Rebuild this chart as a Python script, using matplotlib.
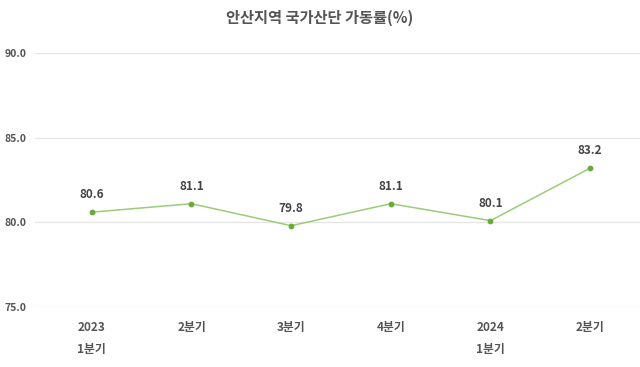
import numpy as np
import matplotlib
matplotlib.use("Agg")
from matplotlib import pyplot as plt

plt.rcParams['font.family'] = ['Noto Sans CJK KR', 'DejaVu Sans']

# data
quarters = ['2023\n1분기', '2분기', '3분기', '4분기', '2024\n1분기', '2분기']
rates = [80.6, 81.1, 79.8, 81.1, 80.1, 83.2]
y_ticks = [75.0, 80.0, 85.0, 90.0]

fig = plt.figure(figsize=(6.4, 3.67), dpi=100)
ax = fig.add_axes([35 / 640, 1 - 307 / 367, 1 - 35 / 640, (307 - 53) / 367])

x = np.arange(len(quarters))
ax.plot(x, rates, color='#9bcc7a', lw=1.1, zorder=3)
ax.scatter(x, rates, s=10, color='#6aaa3a', zorder=4)

for xi, v in zip(x, rates):
    ax.annotate(f'{v:.1f}', (xi, v), xytext=(0, 8), textcoords='offset points',
                ha='center', va='bottom', fontsize=8.5, fontweight='bold', color='#444444')

ax.set_ylim(75, 90)
ax.set_xlim(-0.57, 5.5)
ax.set_yticks(y_ticks)
ax.set_yticklabels([f'{t:.1f}' for t in y_ticks], fontsize=7.5, fontweight='bold', color='#555555')
ax.set_xticks(x)
ax.set_xticklabels(quarters, fontsize=8.5, fontweight='bold', color='#555555', linespacing=1.9)
ax.tick_params(length=0)
ax.tick_params(axis='x', pad=10)
ax.tick_params(axis='y', pad=6)
ax.grid(axis='y', color='#e6e6e6', lw=1)
ax.set_axisbelow(True)
for s in ax.spines.values():
    s.set_visible(False)

fig.text(0.5, 1 - 18 / 367, '안산지역 국가산단 가동률(%)', ha='center', va='center',
         fontsize=11, fontweight='bold', color='#555555')

plt.savefig('out.png', dpi=100)
